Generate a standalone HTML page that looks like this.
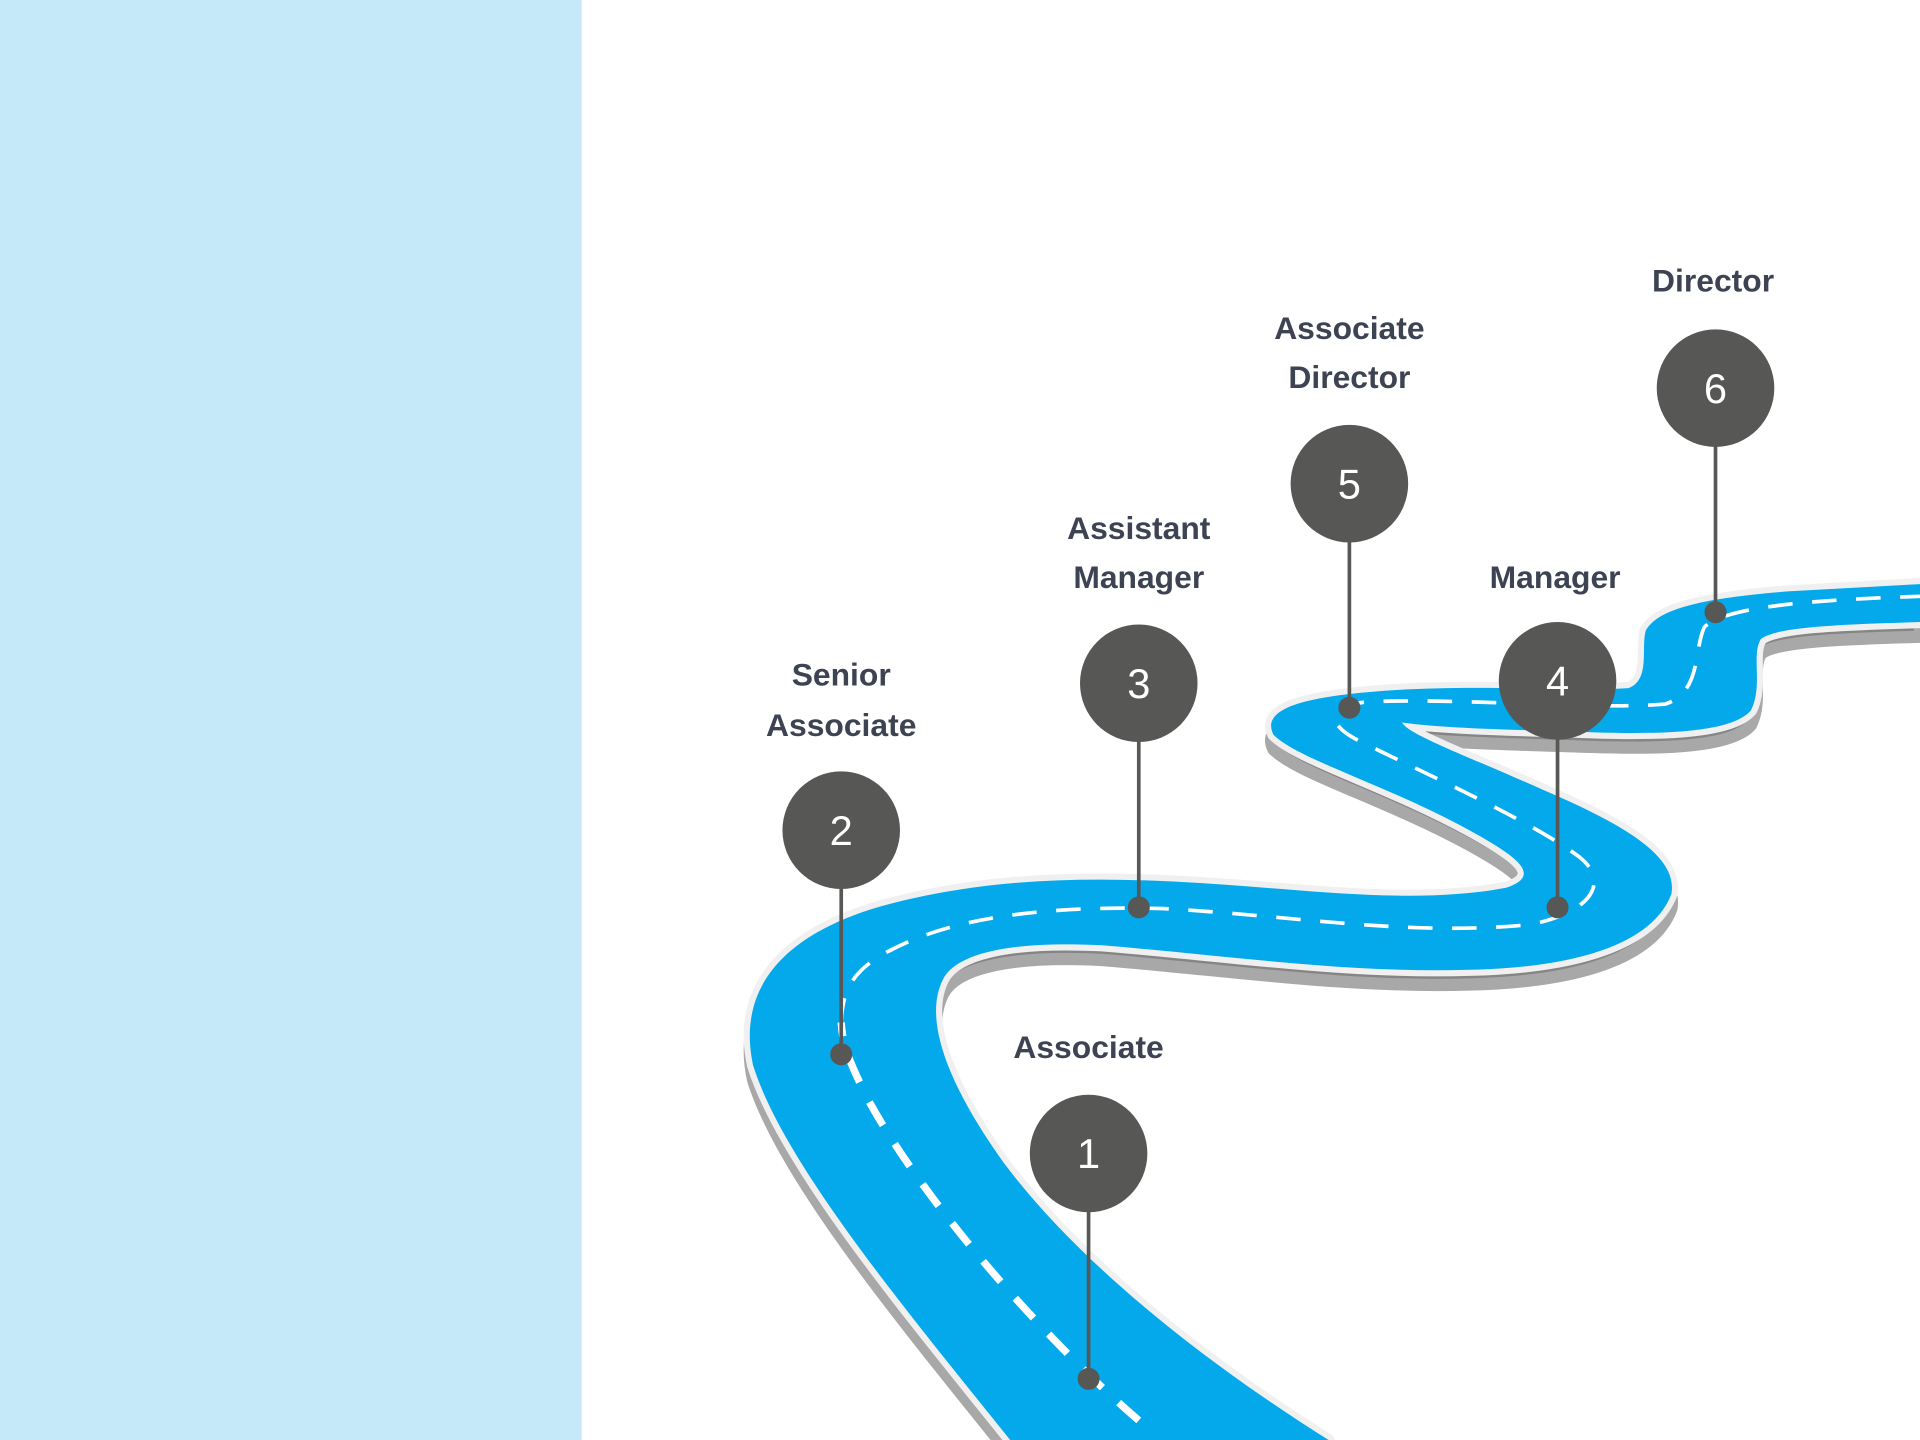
<!DOCTYPE html>
<html><head><meta charset="utf-8"><style>
html,body{margin:0;padding:0;background:#fff;}
svg{display:block;}
text{font-family:"Liberation Sans",sans-serif;}
</style></head><body>
<svg width="1920" height="1440" viewBox="0 0 1568 1176" xmlns="http://www.w3.org/2000/svg">
<rect x="0" y="0" width="1568" height="1176" fill="#fff"/>
<rect x="0" y="0" width="475" height="1176" fill="#c5e9f9"/>
<defs>
<path id="road" d="M825,1176 C740,1070 640,950 615,870 C600,800 650,760 720,740 C800,718 880,716 960,720 C1060,725 1150,740 1230,725 C1260,715 1240,700 1200,678 C1130,640 1060,620 1040,600 C1030,580 1060,570 1120,565 C1200,558 1280,565 1330,562 C1348,555 1340,530 1344,515 C1355,495 1400,488 1460,483 L1568,477 L1568,508 C1500,510 1450,512 1438,522 C1430,535 1440,560 1430,580 C1415,598 1360,600 1300,598 C1240,596 1180,595 1145,590 C1150,600 1200,618 1260,645 C1330,675 1370,700 1365,730 C1350,770 1290,790 1200,792 C1100,795 1000,780 900,772 C820,768 780,780 770,800 C755,830 770,880 820,950 C880,1030 980,1110 1085,1176 Z"/>
</defs>
<use href="#road" transform="translate(0,12)" fill="#858585" stroke="#a8a8a8" stroke-width="10" stroke-linejoin="round"/>
<use href="#road" fill="#03a9eb" stroke="#f0f0f0" stroke-width="10" stroke-linejoin="round"/>
<use href="#road" fill="#03a9eb"/>
<path d="M687,835 C688,805 700,792 720,780 C780,745 870,740 950,742 C1060,748 1150,765 1250,755 C1300,745 1315,720 1290,700 C1250,670 1160,630 1110,605 C1080,590 1085,575 1120,573 C1200,570 1300,580 1360,575 C1390,565 1383,530 1392,512 C1410,495 1480,490 1568,487" fill="none" stroke="#fff" stroke-width="3" stroke-dasharray="20 16"/>
<path d="M930,1160 C860,1100 760,990 710,900 C695,870 688,855 687,835" fill="none" stroke="#fff" stroke-width="6" stroke-dasharray="22 18"/>
<g fill="#575756" stroke="#575756">
<line x1="889" y1="942" x2="889" y2="1126" stroke-width="3"/><circle cx="889" cy="942" r="48" stroke="none"/><circle cx="889" cy="1126" r="9" stroke="none"/>
<line x1="687" y1="678" x2="687" y2="861" stroke-width="3"/><circle cx="687" cy="678" r="48" stroke="none"/><circle cx="687" cy="861" r="9" stroke="none"/>
<line x1="930" y1="558" x2="930" y2="741" stroke-width="3"/><circle cx="930" cy="558" r="48" stroke="none"/><circle cx="930" cy="741" r="9" stroke="none"/>
<line x1="1272" y1="556" x2="1272" y2="741" stroke-width="3"/><circle cx="1272" cy="556" r="48" stroke="none"/><circle cx="1272" cy="741" r="9" stroke="none"/>
<line x1="1102" y1="395" x2="1102" y2="578" stroke-width="3"/><circle cx="1102" cy="395" r="48" stroke="none"/><circle cx="1102" cy="578" r="9" stroke="none"/>
<line x1="1401" y1="317" x2="1401" y2="500" stroke-width="3"/><circle cx="1401" cy="317" r="48" stroke="none"/><circle cx="1401" cy="500" r="9" stroke="none"/>
</g>
<g fill="#fff" font-size="34" text-anchor="middle">
<text x="889" y="954">1</text><text x="687" y="690">2</text><text x="930" y="570">3</text>
<text x="1272" y="568">4</text><text x="1102" y="407">5</text><text x="1401" y="329">6</text>
</g>
<g fill="#3d4352" font-size="26" font-weight="bold" text-anchor="middle">
<text x="889" y="864">Associate</text>
<text x="687" y="560">Senior</text><text x="687" y="601">Associate</text>
<text x="930" y="440">Assistant</text><text x="930" y="480">Manager</text>
<text x="1270" y="480">Manager</text>
<text x="1102" y="277">Associate</text><text x="1102" y="317">Director</text>
<text x="1399" y="238">Director</text>
</g>
</svg>
</body></html>
